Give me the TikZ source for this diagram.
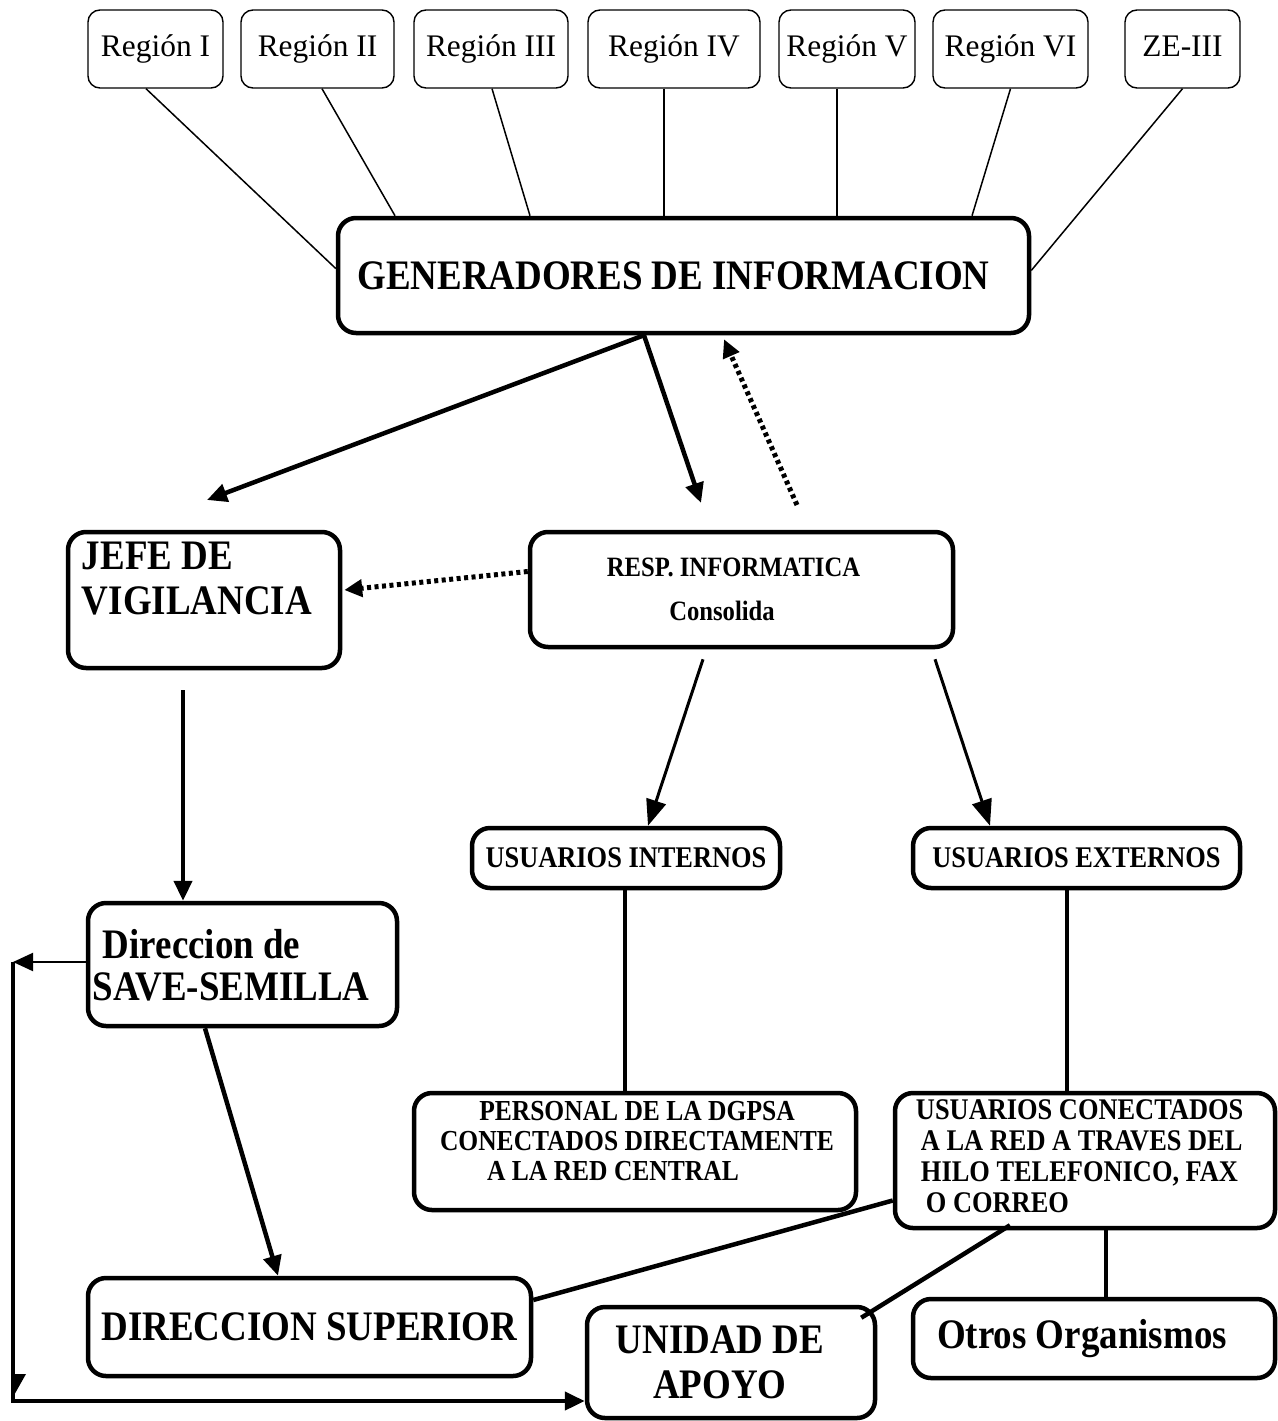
\documentclass[tikz,border=0pt]{standalone}
\usepackage{fontspec}
\setmainfont{Liberation Serif}
\newfontfamily\narrowserif[FakeStretch=0.88]{Liberation Serif}
\usetikzlibrary{arrows.meta}

\tikzset{
  region/.style={draw, rounded corners=12pt, line width=1.4pt, minimum height=78pt,
    inner sep=0pt, text height=23pt, text depth=7pt, font=\fontsize{31.4}{36}\selectfont},
  block/.style={draw, rounded corners=18pt, line width=4.5pt, inner sep=0pt, align=center},
  inset/.style={anchor=north west, align=left, inner sep=0pt},
  big/.style={font=\narrowserif\bfseries\fontsize{42}{45}\selectfont},
  small/.style={font=\narrowserif\bfseries\fontsize{30}{31}\selectfont},
  feed/.style={line width=1.5pt},
  heavy/.style={line width=4.5pt},
  flow/.style={line width=4.5pt, -{Triangle[length=20pt,width=18pt]}},
  split/.style={line width=3pt, -{Triangle[length=26pt,width=20pt]}},
  hint/.style={line width=5pt, dash pattern=on 4pt off 3.5pt, -{Triangle[length=18pt,width=17pt]}},
  back/.style={line width=2pt, -{Triangle[length=20pt,width=18pt]}}
}

\begin{document}
\begin{tikzpicture}[x=1pt,y=-1pt]
\useasboundingbox (0,0) rectangle (1277,1421);

% regiones
\node[region, minimum width=135pt] (reg1) at (155.5,49) {Región I};
\node[region, minimum width=153pt] (reg2) at (317.5,49) {Región II};
\node[region, minimum width=154pt] (reg3) at (491,49) {Región III};
\node[region, minimum width=172pt] (reg4) at (674,49) {Región IV};
\node[region, minimum width=136pt] (reg5) at (847,49) {Región V};
\node[region, minimum width=155pt] (reg6) at (1010.5,49) {Región VI};
\node[region, minimum width=115pt] (ze3) at (1182.5,49) {ZE-III};

% cajas principales
\node[block, big, minimum width=691pt, minimum height=115pt] (gen) at (683.5,275.5)
  {GENERADORES DE INFORMACION\hspace*{20pt}};
\node[block, minimum width=272pt, minimum height=136pt] (jefe) at (204,600) {};
\node[inset, big] (jefe-t) at ([xshift=16pt,yshift=-12pt]jefe.north west) {JEFE DE\\VIGILANCIA};
\node[block, minimum width=423pt, minimum height=115pt,
  font=\narrowserif\bfseries\fontsize{28}{44}\selectfont] (resp) at (741.5,589.5)
  {RESP. INFORMATICA\hspace*{16pt}\\Consolida\hspace*{39pt}};
\node[block, small, minimum width=308pt, minimum height=60pt] (usuint) at (626,858) {USUARIOS INTERNOS};
\node[block, small, minimum width=327pt, minimum height=60pt] (usuext) at (1076.5,858) {USUARIOS EXTERNOS};
\node[block, minimum width=309pt, minimum height=123pt] (dirsave) at (242.5,964.5) {};
\node[inset, big, font=\narrowserif\bfseries\fontsize{42}{42}\selectfont] (dirsave-t)
  at ([xshift=7pt,yshift=-28pt]dirsave.north west) {\hspace*{10pt}Direccion de\\SAVE-SEMILLA};
\node[block, minimum width=442pt, minimum height=117pt] (personal) at (635,1151.5) {};
\node[anchor=north, align=center, inner sep=0pt, font=\narrowserif\bfseries\fontsize{29}{30}\selectfont]
  (personal-t) at ([xshift=2pt,yshift=-10pt]personal.north)
  {PERSONAL DE LA DGPSA\\CONECTADOS DIRECTAMENTE\\A LA RED CENTRAL\hspace*{48pt}};
\node[block, minimum width=380pt, minimum height=135pt] (usucon) at (1085,1160.5) {};
\node[inset, small] (usucon-t) at ([xshift=23pt,yshift=-9pt]usucon.north west)
  {USUARIOS CONECTADOS\\\hspace*{5pt}A LA RED A TRAVES DEL\\\hspace*{5pt}HILO TELEFONICO, FAX\\\hspace*{10pt}O CORREO};
\node[block, big, minimum width=443pt, minimum height=98pt] (dirsup) at (309.5,1327) {DIRECCION SUPERIOR};
\node[block, big, minimum width=288pt, minimum height=111pt] (unidad) at (731,1362.5)
  {UNIDAD DE\hspace*{22pt}\\APOYO\hspace*{22pt}};
\node[block, big, minimum width=362pt, minimum height=79pt] (otros) at (1094,1338.5)
  {Otros Organismos\hspace*{24pt}};

% regiones a generadores
\draw[feed] ([xshift=-9.5pt]reg1.south) -- ([yshift=7pt]gen.west);
\draw[feed] ([xshift=4.5pt]reg2.south) -- ([xshift=-288.5pt]gen.north);
\draw[feed] ([xshift=1pt]reg3.south) -- ([xshift=-153.5pt]gen.north);
\draw[feed] ([xshift=-10pt]reg4.south) -- ([xshift=-19.5pt]gen.north);
\draw[feed] ([xshift=-10pt]reg5.south) -- ([xshift=153.5pt]gen.north);
\draw[feed] (reg6.south) -- ([xshift=288.5pt]gen.north);
\draw[feed] (ze3.south) -- ([yshift=5pt]gen.east);

% flujo de la informacion
\coordinate (jefeIn) at (207,500);
\coordinate (respIn) at (701,503);
\coordinate (respOut) at (797,505);
\draw[flow] ([xshift=-39.5pt]gen.south) -- (jefeIn);
\draw[flow] ([xshift=-39.5pt]gen.south) -- (respIn);
\draw[hint] (respOut) -- ([xshift=40.5pt,yshift=-4pt]gen.south);
\draw[hint] ([yshift=18pt]resp.west) -- ([xshift=2pt,yshift=10pt]jefe.east);
\draw[flow] ([xshift=-21pt,yshift=-20pt]jefe.south) -- ([xshift=-59.5pt]dirsave.north);
\draw[split] ([xshift=-38.5pt,yshift=-10pt]resp.south) -- ([xshift=22pt]usuint.north);
\draw[split] ([xshift=193.5pt,yshift=-10pt]resp.south) -- ([xshift=-86.5pt]usuext.north);
\draw[heavy] ([xshift=-1pt]usuint.south) -- ([xshift=-10pt]personal.north);
\draw[heavy] ([xshift=-9.5pt]usuext.south) -- ([xshift=-18pt]usucon.north);
\draw[flow] ([xshift=-37.5pt]dirsave.south) -- ([xshift=-31.5pt]dirsup.north);

% retorno a la unidad de apoyo
\coordinate (loopTop) at (13,962);
\coordinate (loopBot) at (13,1401);
\draw[back] ([yshift=2.5pt]dirsave.west) -- (loopTop);
\draw[flow] (loopTop) -- (loopBot) -- (loopBot -| unidad.west);
\fill (loopBot) ++(0,-27) -- ++(13,0) -- ++(-13,23) -- cycle;

% usuarios externos
\draw[heavy] ([yshift=-40pt]usucon.west) -- ([yshift=27pt]dirsup.east);
\draw[heavy] ([xshift=-75pt,yshift=5pt]usucon.south) -- ([xshift=-16pt,yshift=-13pt]unidad.north east);
\draw[heavy] ([xshift=21pt,yshift=3pt]usucon.south) -- ([xshift=12pt]otros.north);
\end{tikzpicture}
\end{document}
